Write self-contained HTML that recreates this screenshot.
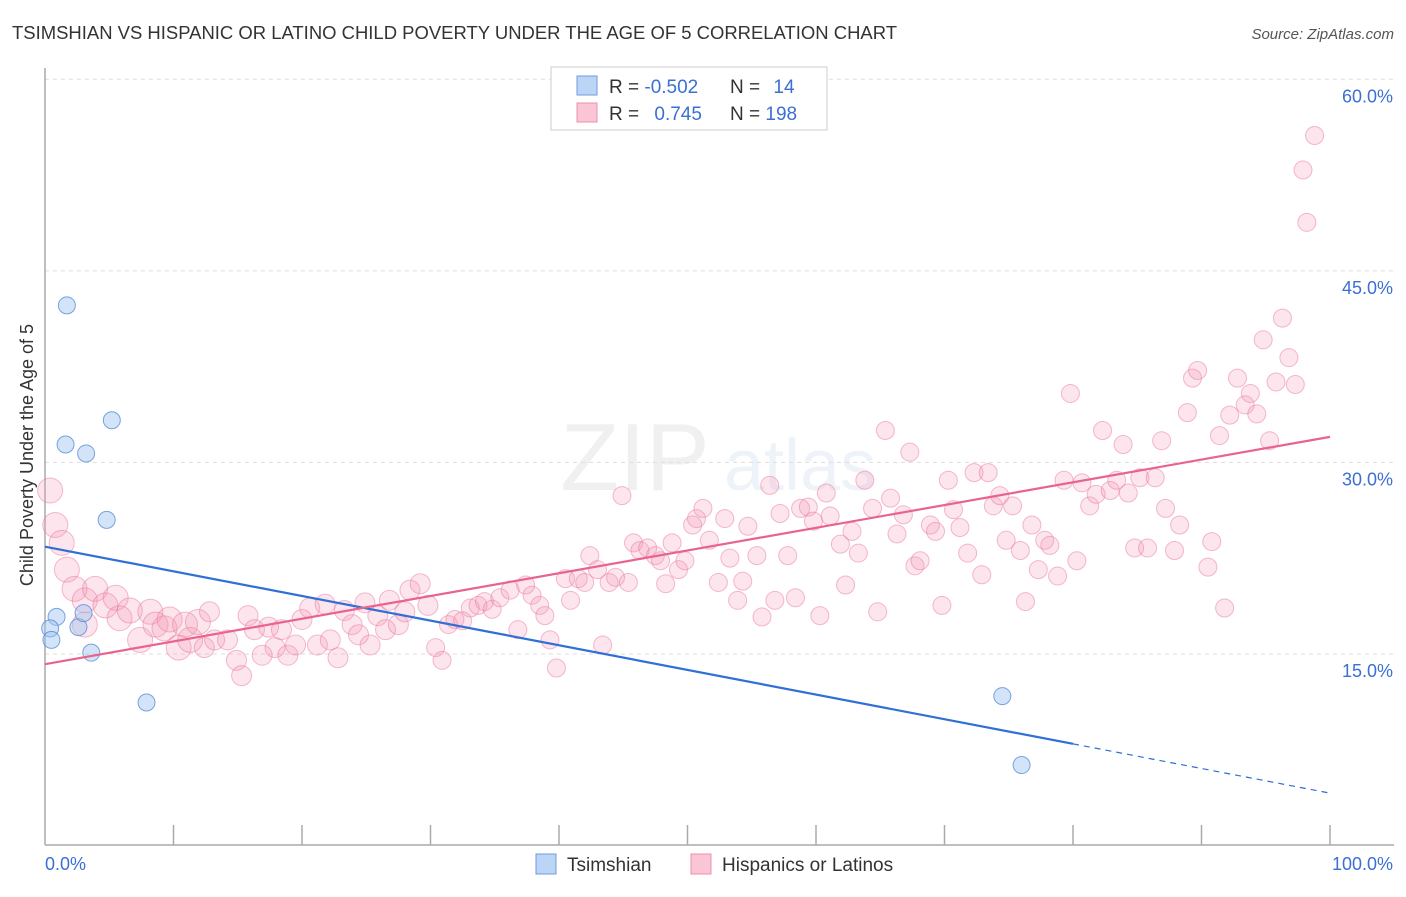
<!DOCTYPE html>
<html><head><meta charset="utf-8"><style>
body{margin:0;background:#fff;font-family:"Liberation Sans",sans-serif;}
svg text{font-family:"Liberation Sans",sans-serif;}
</style></head><body>
<svg id="chart" width="1406" height="892" xmlns="http://www.w3.org/2000/svg">
<text x="12" y="39" font-size="18" fill="#333" textLength="885" lengthAdjust="spacingAndGlyphs">TSIMSHIAN VS HISPANIC OR LATINO CHILD POVERTY UNDER THE AGE OF 5 CORRELATION CHART</text>
<text x="1394" y="39" font-size="15" fill="#555" text-anchor="end" font-style="italic">Source: ZipAtlas.com</text>
<g opacity="0.12">
<text x="635" y="490" font-size="96" fill="#888" text-anchor="middle" font-family="Liberation Serif">ZIP</text>
<text x="800" y="490" font-size="72" fill="#7aa0dd" text-anchor="middle">atlas</text>
</g>
<g id="grid"></g>
<g id="axes"></g>
<g id="pink"></g>
<g id="blue"></g>
<g id="trends"></g>
<text transform="translate(33,455) rotate(-90)" font-size="18" fill="#333" text-anchor="middle">Child Poverty Under the Age of 5</text>
<g>
<rect x="551" y="67" width="276" height="63" fill="#fff" stroke="#ccc"/>
<rect x="577" y="76" width="20" height="19" fill="#bcd4f5" stroke="#6f9be0"/>
<rect x="577" y="103" width="20" height="19" fill="#fac6d6" stroke="#ee90ae"/>
<text x="609" y="93" font-size="19" fill="#333">R = <tspan fill="#3b6fd4">-0.502</tspan></text>
<text x="730" y="93" font-size="19" fill="#333">N = <tspan fill="#3b6fd4" dx="8">14</tspan></text>
<text x="609" y="120" font-size="19" fill="#333">R = <tspan fill="#3b6fd4" dx="10">0.745</tspan></text>
<text x="730" y="120" font-size="19" fill="#333">N = <tspan fill="#3b6fd4">198</tspan></text>
</g>
<g>
<rect x="536" y="854" width="20" height="20" fill="#bcd4f5" stroke="#6f9be0"/>
<text x="567" y="871" font-size="19" fill="#333">Tsimshian</text>
<rect x="691" y="854" width="20" height="20" fill="#fac6d6" stroke="#ee90ae"/>
<text x="722" y="871" font-size="19" fill="#333">Hispanics or Latinos</text>
</g>
</svg>
<script>
const yTicks=[15,30,45,60];
const yTickLabels=["15.0%","30.0%","45.0%","60.0%"];
const xTickLabels=["0.0%","100.0%"];
const blueX=[1.7,5.2,1.6,3.2,4.8,0.9,0.4,0.5,2.6,3.0,3.6,7.9,74.5,76.0];
const blueY=[42.3,33.3,31.4,30.7,25.5,17.9,17.0,16.1,17.1,18.2,15.1,11.2,11.7,6.3];
const pinkX=[0.4,0.8,1.3,1.7,2.3,3.1,3.9,3.1,4.7,5.5,5.8,6.6,7.4,8.2,8.6,9.3,9.7,10.4,10.9,11.3,11.9,12.4,12.8,13.2,14.2,14.9,15.3,15.8,16.3,16.9,17.4,17.9,18.4,18.9,19.5,20.0,20.6,21.2,21.8,22.2,22.8,23.3,23.9,24.4,24.9,25.3,25.9,26.5,26.8,27.5,28.0,28.4,29.2,29.8,30.4,30.9,31.4,31.9,32.5,33.1,33.7,34.2,34.8,35.4,36.2,36.8,37.4,37.9,38.5,38.9,39.3,39.8,40.5,40.9,41.5,42.0,42.4,43.0,43.4,43.9,44.4,44.9,45.4,45.8,46.3,46.9,47.5,47.9,48.3,48.8,49.3,49.8,50.4,50.7,51.2,51.7,52.4,52.9,53.3,53.9,54.3,54.7,55.4,55.8,56.4,56.8,57.2,57.8,58.4,58.8,59.4,59.8,60.3,60.8,61.1,61.9,62.3,62.8,63.3,63.8,64.4,64.8,65.4,65.8,66.3,66.8,67.3,67.7,68.1,68.9,69.3,69.8,70.3,70.7,71.2,71.8,72.3,72.9,73.4,73.8,74.3,74.8,75.3,75.9,76.3,76.8,77.3,77.8,78.2,78.8,79.3,79.8,80.3,80.7,81.3,81.8,82.3,82.9,83.4,83.9,84.3,84.8,85.2,85.8,86.4,86.9,87.2,87.9,88.3,88.9,89.3,89.7,90.5,90.8,91.4,91.8,92.2,92.8,93.4,93.8,94.3,94.8,95.3,95.8,96.3,96.8,97.3,97.9,98.2,98.8];
const pinkY=[27.8,25.1,23.7,21.6,20.1,19.2,20.1,17.3,18.8,19.4,17.8,18.4,16.1,18.3,17.3,17.0,17.7,15.5,17.3,16.1,17.5,15.5,18.3,16.1,16.1,14.5,13.3,18.0,16.9,14.9,17.1,15.5,16.9,14.9,15.7,17.7,18.6,15.7,18.9,16.1,14.7,18.4,17.3,16.5,19.0,15.7,18.0,16.9,19.2,17.3,18.3,20.0,20.5,18.8,15.5,14.5,17.3,17.7,17.6,18.6,18.8,19.1,18.5,19.4,20.0,16.9,20.4,19.6,18.8,18.0,16.1,13.9,20.9,19.2,20.9,20.6,22.7,21.6,15.7,20.6,21.0,27.4,20.6,23.7,23.1,23.3,22.7,22.3,20.5,23.7,21.6,22.3,25.1,25.6,26.4,23.9,20.6,25.6,22.5,19.2,20.7,25.0,22.7,17.9,28.2,19.2,26.0,22.7,19.4,26.4,26.5,25.4,18.0,27.6,25.8,23.6,20.4,24.6,22.9,28.6,26.4,18.3,32.5,27.2,24.4,25.9,30.8,21.9,22.3,25.1,24.6,18.8,28.6,26.3,24.9,22.9,29.2,21.2,29.2,26.6,27.4,23.9,26.6,23.1,19.1,25.1,21.6,23.9,23.5,21.1,28.6,35.4,22.3,28.4,26.6,27.5,32.5,27.8,28.6,31.4,27.6,23.3,28.8,23.3,28.8,31.7,26.4,23.1,25.1,33.9,36.6,37.2,21.8,23.8,32.1,18.6,33.7,36.6,34.5,35.4,33.8,39.6,31.7,36.3,41.3,38.2,36.1,52.9,48.8,55.6];
const blueTrend=[23.4,-0.193];
const pinkTrend=[14.2,0.178];
const NS="http://www.w3.org/2000/svg";
const X0=45,X1=1330,Y0=845.5,YS=12.77;
function sx(v){return X0+(X1-X0)*v/100;}
function sy(v){return Y0-v*YS;}
function mk(t,a,p){const e=document.createElementNS(NS,t);for(const k in a)e.setAttribute(k,a[k]);p.appendChild(e);return e;}
const grid=document.getElementById('grid'),axes=document.getElementById('axes');
yTicks.forEach((t,i)=>{
 const l=mk('line',{x1:X0,x2:1394,y1:sy(t),y2:sy(t),stroke:'#ddd','stroke-dasharray':'4,4'},grid);
 
 
 const tx=mk('text',{x:1393,y:sy(t)+23,'font-size':18,fill:'#3b6fd4','text-anchor':'end'},axes);
 tx.textContent=yTickLabels[i];
 
 
});
mk('line',{x1:X0,x2:X0,y1:68,y2:845,stroke:'#aaa','stroke-width':1.5},axes);
mk('line',{x1:X0,x2:1394,y1:845,y2:845,stroke:'#aaa','stroke-width':1.5},axes);
for(let i=1;i<=10;i++){mk('line',{x1:sx(i*10),x2:sx(i*10),y1:825,y2:845,stroke:'#aaa','stroke-width':1.5},axes);}
[[0,'start',X0],[1,'end',1393]].forEach(([i,a,x])=>{const t=mk('text',{x:x,y:870,'font-size':18,fill:'#3b6fd4','text-anchor':a},axes);t.textContent=xTickLabels[i];
 
 });
const pg=document.getElementById('pink');
pinkX.forEach((x,i)=>{const r=x<12?12.5:x<30?10:9;
 const c=mk('circle',{cx:sx(x),cy:sy(pinkY[i]),r:r,fill:'rgba(244,150,180,0.25)',stroke:'rgba(235,120,155,0.5)','stroke-width':1},pg);
 
 });
const bg=document.getElementById('blue');
blueX.forEach((x,i)=>{
 const c=mk('circle',{cx:sx(x),cy:sy(blueY[i]),r:8.5,fill:'rgba(160,195,240,0.45)',stroke:'rgba(80,135,215,0.75)','stroke-width':1},bg);
 
 });
const tg=document.getElementById('trends');
const bl=mk('line',{x1:sx(0),y1:sy(blueTrend[0]),x2:sx(80),y2:sy(blueTrend[0]+blueTrend[1]*80),stroke:'#2f6fd6','stroke-width':2.2},tg);


const bd=mk('line',{x1:sx(80),y1:sy(blueTrend[0]+blueTrend[1]*80),x2:sx(100),y2:sy(blueTrend[0]+blueTrend[1]*100),stroke:'#2f6fd6','stroke-width':1.2,'stroke-dasharray':'6,5'},tg);


const pl=mk('line',{x1:sx(0),y1:sy(pinkTrend[0]),x2:sx(100),y2:sy(pinkTrend[0]+pinkTrend[1]*100),stroke:'#e8648f','stroke-width':2.2},tg);


</script>
</body></html>
